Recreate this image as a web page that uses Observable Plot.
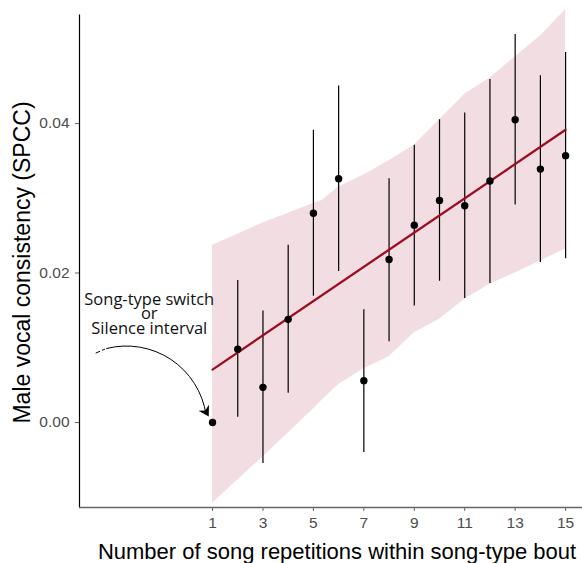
<!DOCTYPE html>
<html><head><meta charset="utf-8">
<script src="https://cdn.jsdelivr.net/npm/d3@7"></script>
<script src="https://cdn.jsdelivr.net/npm/@observablehq/plot@0.6"></script>
<style>body{margin:0;background:#fff}</style>
</head><body><div id="chart"></div>
<script>
// Data
const reps   = [1, 2, 3, 4, 5, 6, 7, 8, 9, 10, 11, 12, 13, 14, 15];
const spcc   = [0.0000, 0.0098, 0.0047, 0.0138, 0.0280, 0.0326, 0.0056, 0.0218, 0.0264, 0.0297, 0.0290, 0.0323, 0.0405, 0.0339, 0.0357];
const ciLow  = [null, 0.0007, -0.0055, 0.0039, 0.0169, 0.0202, -0.0040, 0.0108, 0.0156, 0.0189, 0.0166, 0.0186, 0.0291, 0.0214, 0.0219];
const ciHigh = [null, 0.0190, 0.0149, 0.0237, 0.0391, 0.0450, 0.0151, 0.0326, 0.0371, 0.0405, 0.0414, 0.0459, 0.0519, 0.0464, 0.0495];

const bandX    = [1, 2, 3, 4, 5, 5.35, 6, 7, 8, 9, 10, 11, 12, 13, 14, 15];
const bandLow  = [-0.0108, -0.0077, -0.0046, -0.0014, 0.0018, 0.0030, 0.0051, 0.0072, 0.0088, 0.0120, 0.0138, 0.0165, 0.0185, 0.0200, 0.0216, 0.0232];
const bandHigh = [0.0237, 0.0252, 0.0267, 0.0280, 0.0293, 0.0297, 0.0315, 0.0331, 0.0350, 0.0371, 0.0405, 0.0439, 0.0461, 0.0489, 0.0517, 0.0552];

const fitX = [1, 15];
const fitY = [0.00707, 0.03916];

const xTicks = [1, 3, 5, 7, 9, 11, 13, 15];
const yTicks = [0.00, 0.02, 0.04];

const xTitle = "Number of song repetitions within song-type bout";
const yTitle = "Male vocal consistency (SPCC)";
const noteLines = ["Song-type switch", "or", "Silence interval"];
const notePos = [-1.51, 0.01441];
const arrowFrom = [-3.2, 0.0099];
const arrowTo = [0.74, 0.0011];
const headAt = [0.85, 0.0008];
const dashX = [-3.62, -3.28];
const dashY = [0.0093, 0.0098];

const xDomain = [-4.275, 15.67];
const yDomain = [-0.011371, 0.05525];

const points = reps.map((r, i) => ({x: r, y: spcc[i], lo: ciLow[i], hi: ciHigh[i]}));
const bars = points.filter(d => d.lo != null);
const band = bandX.map((x, i) => ({x, lo: bandLow[i], hi: bandHigh[i]}));
const fit = fitX.map((x, i) => ({x, y: fitY[i]}));

// filled barbed arrowhead, tip at the origin, pointing up
const barb = {draw(ctx) {
  ctx.moveTo(0, 0); ctx.lineTo(6, 10); ctx.lineTo(0, 7); ctx.lineTo(-6, 10); ctx.closePath();
}};

const chart = Plot.plot({
  width: 582, height: 563,
  marginLeft: 79, marginRight: 0, marginTop: 9, marginBottom: 56,
  x: {domain: xDomain},
  y: {domain: yDomain},
  style: {fontFamily: "'Liberation Sans', Arial, sans-serif", background: "white"},
  marks: [
    Plot.areaY(band, {x: "x", y1: "lo", y2: "hi", fill: "#f2dde2", curve: "linear"}),
    Plot.ruleX(bars, {x: "x", y1: "lo", y2: "hi", stroke: "black", strokeWidth: 1.2}),
    Plot.line(fit, {x: "x", y: "y", stroke: "#9b0d1f", strokeWidth: 2.3}),
    Plot.dot(points, {x: "x", y: "y", r: 3.7, fill: "black"}),
    // axis lines
    Plot.ruleX([xDomain[0]], {y1: yDomain[0], y2: 0.0545, stroke: "black", strokeWidth: 1.2}),
    Plot.ruleY([yDomain[0]], {stroke: "#666", strokeWidth: 1.5}),
    Plot.axisX(xTicks, {tickSize: 4, tickPadding: 5, fontSize: 15.5, stroke: "#666", color: "#4d4d4d", label: null}),
    Plot.axisY(yTicks, {tickSize: 4, tickPadding: 6, fontSize: 15.5, stroke: "#666", color: "#4d4d4d", tickFormat: d3.format(".2f"), label: null}),
    Plot.text([xTitle], {frameAnchor: "bottom", dy: 51, dx: 6, lineAnchor: "bottom", fontSize: 22, fill: "black"}),
    Plot.text([yTitle], {frameAnchor: "left", textAnchor: "middle", dx: -57, dy: 4, rotate: -90, fontSize: 23, fill: "black"}),
    // annotation
    Plot.text([noteLines.join("\n")], {x: notePos[0], y: notePos[1], fontSize: 16.5, lineHeight: 0.88, fontFamily: "'Open Sans', sans-serif", fill: "#111"}),
    Plot.arrow([0], {x1: arrowFrom[0], y1: arrowFrom[1], x2: arrowTo[0], y2: arrowTo[1], bend: 48, stroke: "black", strokeWidth: 1, headLength: 0}),
    Plot.dot([0], {x: headAt[0], y: headAt[1], symbol: barb, rotate: 150, fill: "black", stroke: "none", r: 5}),
    Plot.line(dashX.map((x, i) => ({x, y: dashY[i]})), {x: "x", y: "y", stroke: "black", strokeWidth: 1, strokeDasharray: "4,3"})
  ]
});
document.getElementById("chart").append(chart);
</script>
</body></html>
